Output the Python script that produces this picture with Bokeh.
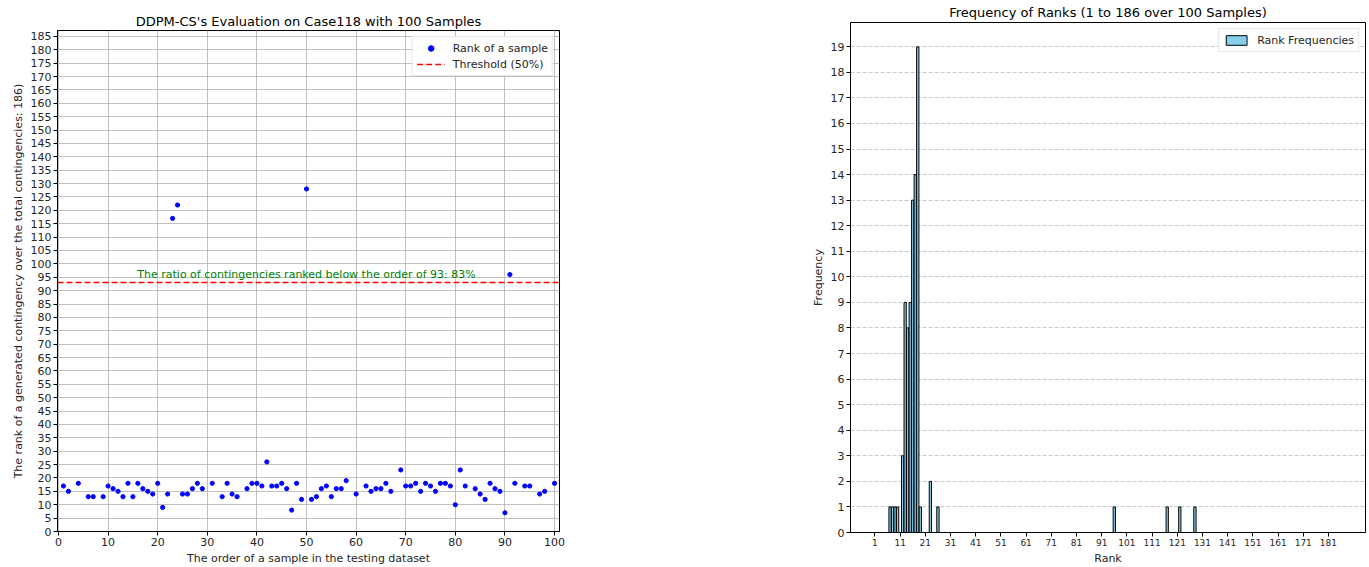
from collections import Counter
from bokeh.plotting import figure
from bokeh.layouts import row, column
from bokeh.models import (FixedTicker, Label, Legend, LegendItem, ColumnDataSource)
from bokeh.embed import file_html
from bokeh.resources import INLINE

# ---------------- data ----------------
sample_order = [1, 2, 4, 6, 7, 9, 10, 11, 12, 13, 14, 15, 16, 17, 18, 19, 20, 21, 22, 23,
                24, 25, 26, 27, 28, 29, 31, 33, 34, 35, 36, 38, 39, 40, 41, 42, 43, 44, 45,
                46, 47, 48, 49, 50, 51, 52, 53, 54, 55, 56, 57, 58, 60, 62, 63, 64, 65, 66,
                67, 69, 70, 71, 72, 73, 74, 75, 76, 77, 78, 79, 80, 81, 82, 84, 85, 86, 87,
                88, 89, 90, 91, 92, 94, 95, 97, 98, 100]
sample_rank = [17, 15, 18, 13, 13, 13, 17, 16, 15, 13, 18, 13, 18, 16, 15, 14, 18, 9, 14, 117,
               122, 14, 14, 16, 18, 16, 18, 13, 18, 14, 13, 16, 18, 18, 17, 26, 17, 17, 18,
               16, 8, 18, 12, 128, 12, 13, 16, 17, 13, 16, 16, 19, 14, 17, 15, 16, 16, 18,
               15, 23, 17, 17, 18, 15, 18, 17, 15, 18, 18, 17, 10, 23, 17, 16, 14, 12, 18,
               16, 15, 7, 96, 18, 17, 17, 14, 15, 18]
total_contingencies = 186
threshold = 93
ratio_text = "The ratio of contingencies ranked below the order of 93: 83%"
ratio_text_x = 50

x_ticks_left = list(range(0, 101, 10))
y_ticks_left = list(range(0, 186, 5))
x_ticks_right = list(range(1, 187, 10))
y_ticks_right = list(range(0, 20))

all_ranks = list(range(1, total_contingencies + 1))
cnt = Counter(sample_rank)
rank_counts = [cnt.get(r, 0) for r in all_ranks]

FONT = "DejaVu Sans"
TXT = "#262626"


def style_axes(p, tick_size="11px", label_size="11px"):
    for ax in (p.xaxis, p.yaxis):
        ax.major_label_text_font = FONT
        ax.major_label_text_font_size = tick_size
        ax.major_label_text_color = TXT
        ax.axis_label_text_font = FONT
        ax.axis_label_text_font_size = label_size
        ax.axis_label_text_font_style = "normal"
        ax.axis_label_text_color = TXT
        ax.axis_line_color = "black"
        ax.major_tick_line_color = "black"
        ax.major_tick_out = 4
        ax.major_tick_in = 0
        ax.minor_tick_line_color = None
        ax.major_label_standoff = 2
        ax.axis_label_standoff = 3
    p.outline_line_color = "black"
    p.outline_line_alpha = 1
    p.title.text_font = FONT
    p.title.text_font_size = "13px"
    p.title.text_font_style = "normal"
    p.title.text_color = "black"
    p.title.align = "center"


# ---------------- left: scatter ----------------
p1 = figure(width=600, height=567, x_range=(-0.2, 101), y_range=(0, 187.2),
            output_backend="svg", toolbar_location=None,
            title="DDPM-CS's Evaluation on Case118 with 100 Samples",
            min_border_left=57, min_border_right=41, min_border_top=30, min_border_bottom=36)
style_axes(p1)
p1.title.standoff = 4
p1.xaxis.axis_label = "The order of a sample in the testing dataset"
p1.yaxis.axis_label = "The rank of a generated contingency over the total contingencies: 186)"
p1.xaxis.ticker = FixedTicker(ticks=x_ticks_left)
p1.yaxis.ticker = FixedTicker(ticks=y_ticks_left)
p1.grid.grid_line_color = "#b0b0b0"
p1.grid.grid_line_width = 0.8

src = ColumnDataSource(dict(x=sample_order, y=sample_rank))
pts = p1.scatter("x", "y", source=src, size=4.2, color="blue", line_color="blue")

thr = p1.hspan(y=[threshold], line_color="red", line_dash="6 3", line_width=1.5)

lab = Label(x=ratio_text_x, y=threshold + 0.6, text=ratio_text,
            text_align="center", text_baseline="bottom", text_color="green",
            text_font=FONT, text_font_size="11px")
p1.add_layout(lab)

leg1 = Legend(items=[LegendItem(label="Rank of a sample", renderers=[pts]),
                     LegendItem(label="Threshold (50%)", renderers=[thr])],
              location="top_right")
leg1.label_text_font = FONT
leg1.label_text_font_size = "11px"
leg1.label_text_color = TXT
leg1.border_line_color = "#cccccc"
leg1.margin = 6
leg1.padding = 4
leg1.spacing = 2
leg1.glyph_width = 28
leg1.glyph_height = 14
leg1.label_height = 14
leg1.label_standoff = 8
p1.add_layout(leg1)

# ---------------- right: histogram ----------------
p2 = figure(width=769, height=567, x_range=(-8.7, 195.7), y_range=(0, 19.95),
            output_backend="svg", toolbar_location=None,
            title="Frequency of Ranks (1 to 186 over 100 Samples)",
            min_border_left=250, min_border_right=4, min_border_top=22, min_border_bottom=34)
style_axes(p2)
p2.title.standoff = 5
p2.xaxis.axis_label = "Rank"
p2.yaxis.axis_label = "Frequency"
p2.xaxis.ticker = FixedTicker(ticks=x_ticks_right)
p2.yaxis.ticker = FixedTicker(ticks=y_ticks_right)
p2.xaxis.major_label_text_font_size = "9px"
p2.xgrid.grid_line_color = None
p2.ygrid.grid_line_color = "#b0b0b0"
p2.ygrid.grid_line_dash = "4 2"
p2.ygrid.grid_line_alpha = 0.7

hsrc = ColumnDataSource(dict(x=all_ranks, top=rank_counts))
bars = p2.vbar(x="x", top="top", bottom=0, width=0.9, source=hsrc,
               fill_color="skyblue", line_color="black", line_width=1)

leg2 = Legend(items=[LegendItem(label="Rank Frequencies", renderers=[bars])], location="top_right")
leg2.label_text_font = FONT
leg2.label_text_font_size = "11px"
leg2.label_text_color = TXT
leg2.border_line_color = "#cccccc"
leg2.margin = 6
leg2.padding = 4
leg2.glyph_width = 26
leg2.glyph_height = 12
leg2.label_height = 14
leg2.label_standoff = 8
p2.add_layout(leg2)

layout = row(column(p1), column(p2))
open("out.html", "w").write(file_html(layout, INLINE))
